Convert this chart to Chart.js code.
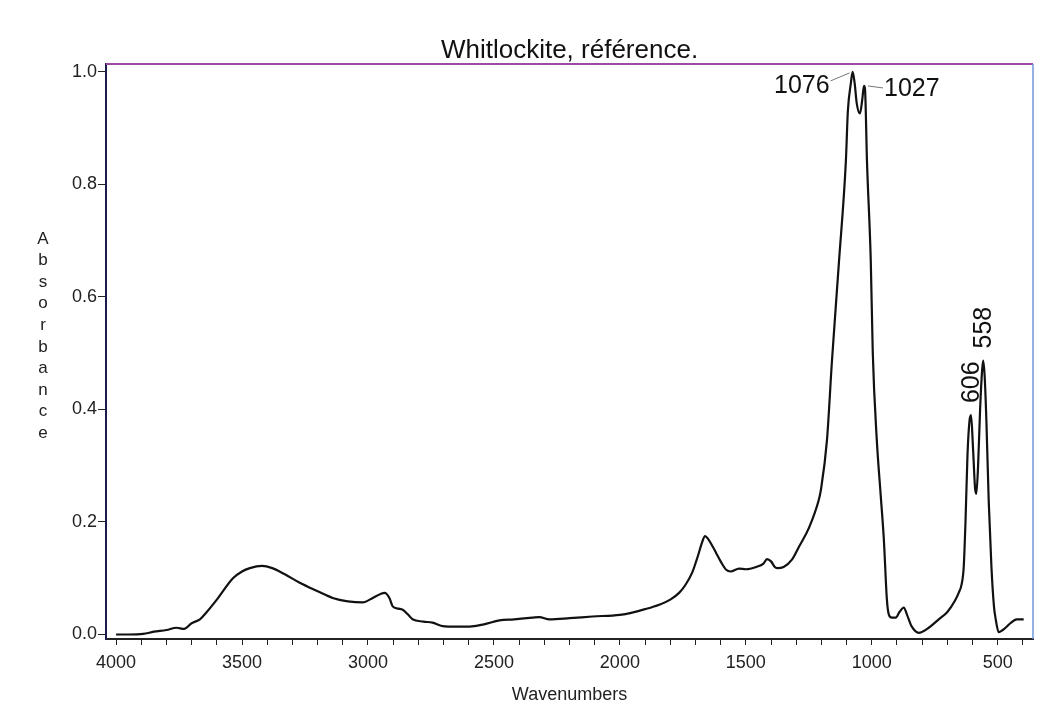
<!DOCTYPE html>
<html>
<head>
<meta charset="utf-8">
<script src="https://cdn.jsdelivr.net/npm/chart.js@4"></script>
<style>
  html, body { margin: 0; padding: 0; background: #ffffff; }
  canvas { display: block; }
</style>
</head>
<body>
<canvas id="chart_canvas" width="1051" height="722"></canvas>
<script>
// spectrum (wavenumber, absorbance)
var wavenumbers = [4000, 3950, 3893, 3850, 3800, 3760, 3730, 3700, 3667, 3640, 3600, 3536, 3500, 3469, 3421, 3380, 3330, 3271, 3200, 3140, 3080, 3021, 2981, 2950, 2934, 2915, 2902, 2880, 2862, 2840, 2823, 2780, 2744, 2704, 2650, 2597, 2540, 2478, 2420, 2347, 2320, 2280, 2200, 2109, 2000, 1951, 1900, 1844, 1800, 1765, 1740, 1713, 1690, 1675, 1662, 1650, 1630, 1618, 1600, 1578, 1560, 1527, 1500, 1459, 1430, 1416, 1400, 1385, 1376, 1350, 1317, 1289, 1249, 1210, 1202, 1178, 1158, 1130, 1103, 1095, 1083, 1076, 1068, 1060, 1047, 1038, 1031, 1027, 1019, 1004, 996, 980, 965, 952, 940, 932, 920, 905, 890, 873, 860, 841, 813, 780, 734, 700, 670, 655, 643, 635, 628, 620, 612, 606, 598, 590, 585, 578, 570, 562, 558, 552, 545, 536, 525, 515, 508, 496, 480, 469, 450, 425, 397];
var absorbance = [0.0, 0.0, 0.001, 0.005, 0.008, 0.012, 0.010, 0.020, 0.027, 0.040, 0.062, 0.100, 0.112, 0.118, 0.122, 0.118, 0.107, 0.092, 0.077, 0.065, 0.059, 0.057, 0.065, 0.072, 0.074, 0.065, 0.050, 0.046, 0.044, 0.035, 0.027, 0.023, 0.021, 0.015, 0.014, 0.014, 0.018, 0.025, 0.027, 0.030, 0.031, 0.027, 0.029, 0.032, 0.035, 0.039, 0.045, 0.053, 0.062, 0.074, 0.088, 0.110, 0.140, 0.162, 0.175, 0.170, 0.155, 0.145, 0.130, 0.115, 0.112, 0.117, 0.116, 0.120, 0.126, 0.134, 0.130, 0.120, 0.118, 0.120, 0.133, 0.156, 0.190, 0.240, 0.257, 0.345, 0.487, 0.664, 0.840, 0.930, 0.980, 1.000, 0.980, 0.945, 0.926, 0.950, 0.975, 0.970, 0.840, 0.664, 0.500, 0.345, 0.250, 0.168, 0.062, 0.035, 0.030, 0.030, 0.040, 0.048, 0.035, 0.014, 0.003, 0.010, 0.027, 0.040, 0.060, 0.074, 0.090, 0.120, 0.200, 0.320, 0.380, 0.390, 0.330, 0.260, 0.250, 0.300, 0.400, 0.470, 0.487, 0.460, 0.380, 0.240, 0.120, 0.050, 0.027, 0.004, 0.008, 0.012, 0.020, 0.027, 0.027];

// labelled peaks
var peakWn = [1076, 1027, 606, 558];
var peakAbs = [1.0, 0.975, 0.39, 0.487];
var peakText = ["1076", "1027", "606", "558"];

// axes
var xLabelValues = [4000, 3500, 3000, 2500, 2000, 1500, 1000, 500];
var xMinorStep = 100;
var yTickValues = [0.0, 0.2, 0.4, 0.6, 0.8, 1.0];

var chartTitle = "Whitlockite, référence.";
var xTitle = "Wavenumbers";
var yTitle = "Absorbance";

var points = [];
for (var i = 0; i < wavenumbers.length; i++) {
    points.push({ x: wavenumbers[i], y: absorbance[i] });
}

var fontFamily = "'Liberation Sans', Arial, sans-serif";

var extras = {
    id: 'extras',
    afterDraw: function(chart) {
        var ctx = chart.ctx;
        var area = chart.chartArea;
        var xs = chart.scales.x;
        var ys = chart.scales.y;
        ctx.save();
        // coloured top / right frame
        ctx.lineWidth = 2;
        ctx.strokeStyle = '#9b4aa3';
        ctx.beginPath();
        ctx.moveTo(area.left, area.top);
        ctx.lineTo(area.right, area.top);
        ctx.stroke();
        ctx.lineWidth = 1.5;
        ctx.strokeStyle = '#6f97db';
        ctx.beginPath();
        ctx.moveTo(area.right, area.top);
        ctx.lineTo(area.right, area.bottom);
        ctx.stroke();

        // title, centred over the plot area
        ctx.fillStyle = '#111';
        ctx.font = "26px " + fontFamily;
        ctx.textAlign = 'center';
        ctx.textBaseline = 'middle';
        ctx.fillText(chartTitle, (area.left + area.right) / 2, area.top - 13);

        // stacked y title
        ctx.fillStyle = '#222';
        ctx.font = "17px " + fontFamily;
        for (var k = 0; k < yTitle.length; k++) {
            ctx.fillText(yTitle[k], area.left - 63, 239 + k * 21.6);
        }

        // peak labels
        ctx.font = "25px " + fontFamily;
        ctx.fillStyle = '#111';
        ctx.strokeStyle = '#777';
        ctx.lineWidth = 1;
        for (var p = 0; p < peakWn.length; p++) {
            var px = xs.getPixelForValue(peakWn[p]);
            var py = ys.getPixelForValue(peakAbs[p]);
            if (p === 0) {
                ctx.beginPath();
                ctx.moveTo(px - 22, py + 9);
                ctx.lineTo(px - 3, py + 1);
                ctx.stroke();
                ctx.textAlign = 'right';
                ctx.fillText(peakText[p], px - 23, py + 14);
            } else if (p === 1) {
                ctx.beginPath();
                ctx.moveTo(px + 3, py);
                ctx.lineTo(px + 18, py + 2);
                ctx.stroke();
                ctx.textAlign = 'left';
                ctx.fillText(peakText[p], px + 19, py + 3);
            } else {
                ctx.save();
                ctx.translate(px + 1, py - 12);
                ctx.rotate(-Math.PI / 2);
                ctx.textAlign = 'left';
                ctx.fillText(peakText[p], 0, 0);
                ctx.restore();
            }
        }
        ctx.restore();
    }
};

var context = document.getElementById('chart_canvas');
var lineChart = new Chart(context, {
    type: 'line',
    data: {
        datasets: [{
            label: 'Whitlockite',
            data: points,
            borderColor: '#111',
            borderWidth: 2.2,
            pointRadius: 0,
            fill: false,
            cubicInterpolationMode: 'monotone'
        }]
    },
    options: {
        responsive: false,
        animation: false,
        events: [],
        layout: { padding: { top: 64, right: 18, bottom: 0, left: 0 } },
        plugins: {
            legend: { display: false },
            tooltip: { enabled: false },
            title: { display: false }
        },
        scales: {
            x: {
                type: 'linear',
                reverse: true,
                min: 360,
                max: 4040,
                afterBuildTicks: function(scale) {
                    var t = [];
                    for (var v = xLabelValues[0]; v >= 400; v -= xMinorStep) {
                        t.push({ value: v });
                    }
                    scale.ticks = t;
                },
                afterFit: function(scale) { scale.height = 83; },
                ticks: {
                    autoSkip: false,
                    maxRotation: 0,
                    padding: 7,
                    color: '#222',
                    font: { family: fontFamily, size: 18 },
                    callback: function(v) { return xLabelValues.indexOf(v) >= 0 ? String(v) : ''; }
                },
                grid: { drawOnChartArea: false, drawTicks: true, tickLength: 6, color: '#222' },
                border: { display: true, color: '#222', width: 2 },
                title: {
                    display: true,
                    text: xTitle,
                    color: '#222',
                    font: { family: fontFamily, size: 18 },
                    padding: { top: 0, bottom: 16 }
                }
            },
            y: {
                min: -0.008,
                max: 1.014,
                afterBuildTicks: function(scale) {
                    scale.ticks = yTickValues.map(function(v) { return { value: v }; });
                },
                afterFit: function(scale) { scale.width = 106; },
                ticks: {
                    padding: 1,
                    color: '#222',
                    font: { family: fontFamily, size: 18 },
                    callback: function(v) { return Number(v).toFixed(1); }
                },
                grid: { drawOnChartArea: false, drawTicks: true, tickLength: 8, color: '#222' },
                border: { display: true, color: '#1c1c4a', width: 2 }
            }
        }
    },
    plugins: [extras]
});
</script>
</body>
</html>
